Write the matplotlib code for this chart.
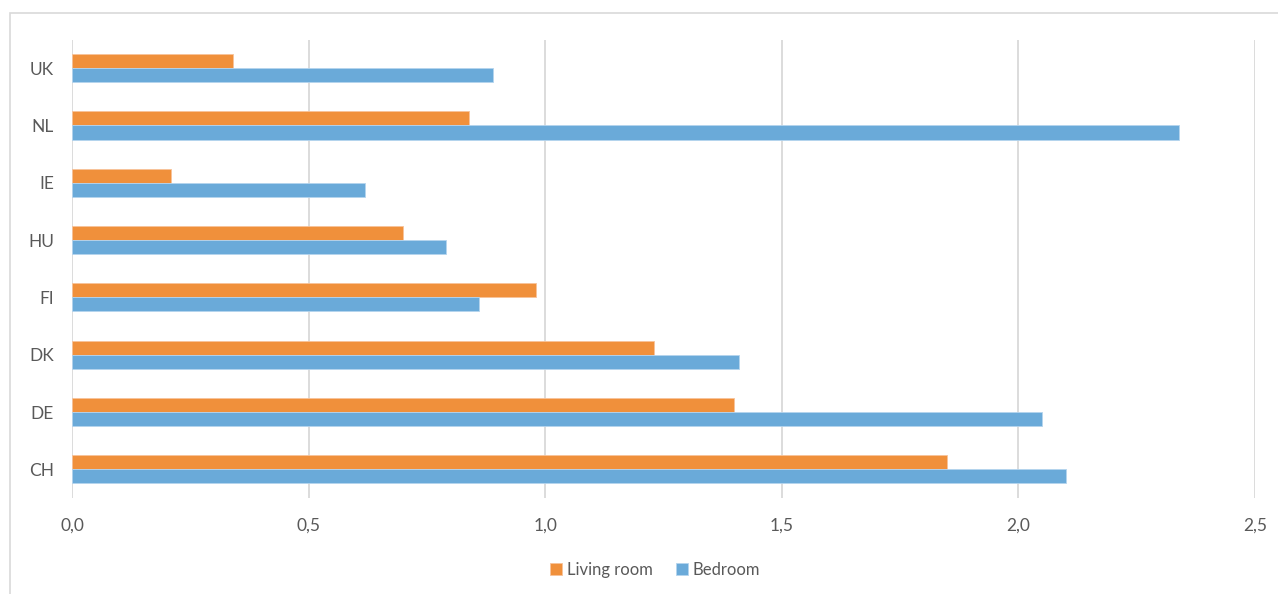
import matplotlib
matplotlib.use("Agg")
import matplotlib.pyplot as plt
from matplotlib.patches import Rectangle
from matplotlib.ticker import FuncFormatter
import numpy as np

# Countries listed bottom to top
countries = ["CH", "DE", "DK", "FI", "HU", "IE", "NL", "UK"]
living_room = [1.85, 1.40, 1.23, 0.98, 0.70, 0.21, 0.84, 0.34]
bedroom = [2.10, 2.05, 1.41, 0.86, 0.79, 0.62, 2.34, 0.89]
x_ticks = [0.0, 0.5, 1.0, 1.5, 2.0, 2.5]

ORANGE = "#F0903B"
BLUE = "#6AAAD9"
TEXT = "#595959"
GRID = "#D9D9D9"

plt.rcParams["font.family"] = ["Lato", "DejaVu Sans"]

fig = plt.figure(figsize=(12.78, 5.94), dpi=100)
ax = fig.add_axes([72 / 1278, 1 - 498 / 594, (1255 - 72) / 1278, (498 - 39.5) / 594])

# chart frame (runs off the right and bottom edges)
fig.patches.append(Rectangle((10 / 1278, -0.1), 1.2, 1 - 12.5 / 594 + 0.1,
                             transform=fig.transFigure, fill=False,
                             edgecolor="#D9D9D9", linewidth=1.2, zorder=0))

y = np.arange(len(countries))
h = 0.245
ax.barh(y + h / 2, living_room, height=h, color=ORANGE,
        edgecolor="#F7C39A", linewidth=0.6, label="Living room", zorder=3)
ax.barh(y - h / 2, bedroom, height=h, color=BLUE,
        edgecolor="#B5D5EE", linewidth=0.6, label="Bedroom", zorder=3)

ax.set_xlim(0, 2.5)
ax.set_ylim(-0.5, len(countries) - 0.5)
ax.set_xticks(x_ticks)
ax.xaxis.set_major_formatter(FuncFormatter(lambda v, p: f"{v:.1f}".replace(".", ",")))
ax.set_yticks(y)
ax.set_yticklabels(countries)

ax.grid(axis="x", color=GRID, linewidth=1.3, zorder=0)
ax.set_axisbelow(True)
for s in ax.spines.values():
    s.set_visible(False)
ax.tick_params(axis="both", length=0, labelsize=12.5, colors=TEXT)
ax.tick_params(axis="x", pad=14)
ax.tick_params(axis="y", pad=13)

leg = fig.legend(loc="center", bbox_to_anchor=(655 / 1278, 1 - 570 / 594), ncol=2,
                 frameon=False, fontsize=12, handlelength=0.7, handleheight=0.7,
                 handletextpad=0.3, columnspacing=1.4)
for t in leg.get_texts():
    t.set_color(TEXT)

fig.savefig("out.png", dpi=100, facecolor="white")
